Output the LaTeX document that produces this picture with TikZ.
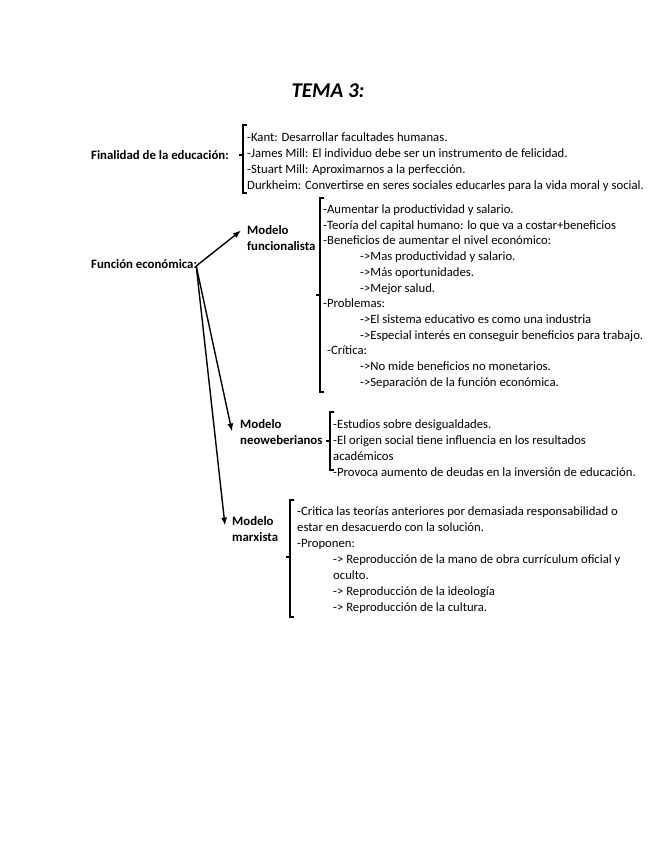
\documentclass[tikz,border=0pt]{standalone}
\usepackage{fontspec}
\setmainfont{Carlito}
\usetikzlibrary{arrows.meta,positioning}
\newcommand{\corchete}[4]{%
  \draw[llave] (#1+4,#2)--(#1,#2)--(#1,#3)--(#1+4,#3);
  \draw[llave] (#1,#4)--(#1-4,#4);}
\newcommand{\ind}{\hspace*{37pt}}

\begin{document}
\begin{tikzpicture}[x=1pt,y=-1pt,
  texto/.style={anchor=north west,inner sep=0pt,align=left,
    font=\fontsize{12.7}{16}\selectfont},
  titulo/.style={inner sep=0pt,font=\fontsize{12.8}{16}\selectfont\bfseries,align=left},
  llave/.style={line width=1.1pt},
  flecha/.style={-{Latex[length=8pt,width=6pt]},line width=1.4pt}]
  \useasboundingbox (0,0) rectangle (655,848);
  \node[font=\fontsize{21}{24}\selectfont\bfseries\itshape] (tema) at (328,91) {TEMA 3:};

  \node[titulo,anchor=west] (fin) at (91,155) {Finalidad de la educación:};
  \corchete{243}{125}{193}{155}
  \node[texto] (autores) at (247,132) {-Kant: Desarrollar facultades humanas.\\
    -James Mill: El individuo debe ser un instrumento de felicidad.\\
    -Stuart Mill: Aproximarnos a la perfección.\\
    Durkheim: Convertirse en seres sociales educarles para la vida moral y social.};

  \node[titulo,anchor=west] (fe) at (91,264) {Función económica:};

  \node[titulo,anchor=north west] (mf) at (247,225.5) {Modelo\\funcionalista};
  \corchete{320}{198}{392}{295}
  \node[texto,font=\fontsize{12.7}{15.7}\selectfont] (funcional) at (323,204.5) {-Aumentar la productividad y salario.\\
    -Teoría del capital humano: lo que va a costar+beneficios\\
    -Beneficios de aumentar el nivel económico:\\
    \ind->Mas productividad y salario.\\
    \ind->Más oportunidades.\\
    \ind->Mejor salud.\\
    -Problemas:\\
    \ind->El sistema educativo es como una industria\\
    \ind->Especial interés en conseguir beneficios para trabajo.\\
    \hspace*{4pt}-Crítica:\\
    \ind->No mide beneficios no monetarios.\\
    \ind->Separación de la función económica.};

  \node[titulo,anchor=north west] (mn) at (240,419.5) {Modelo\\neoweberianos};
  \corchete{330}{412}{470}{441}
  \node[texto] (neo) at (333,419.5) {-Estudios sobre desigualdades.\\
    -El origen social tiene influencia en los resultados\\
    académicos\\
    -Provoca aumento de deudas en la inversión de educación.};

  \node[titulo,anchor=north west] (mm) at (232,516.5) {Modelo\\marxista};
  \corchete{290}{500}{617}{557}
  \node[texto] (marx) at (297,506.5) {-Critica las teorías anteriores por demasiada responsabilidad o\\
    estar en desacuerdo con la solución.\\
    -Proponen:\\
    \hspace*{36pt}-> Reproducción de la mano de obra currículum oficial y\\
    \hspace*{36pt}oculto.\\
    \hspace*{36pt}-> Reproducción de la ideología\\
    \hspace*{36pt}-> Reproducción de la cultura.};

  \coordinate (origen) at ([xshift=-1pt,yshift=-2pt]fe.east);
  \draw[flecha] (origen)--([xshift=-6pt,yshift=-5pt]mf.north west);
  \draw[flecha] (origen)--([xshift=-8pt,yshift=-12pt]mn.north west);
  \draw[flecha] (origen)--([xshift=-7pt,yshift=-9pt]mm.north west);
\end{tikzpicture}
\end{document}
